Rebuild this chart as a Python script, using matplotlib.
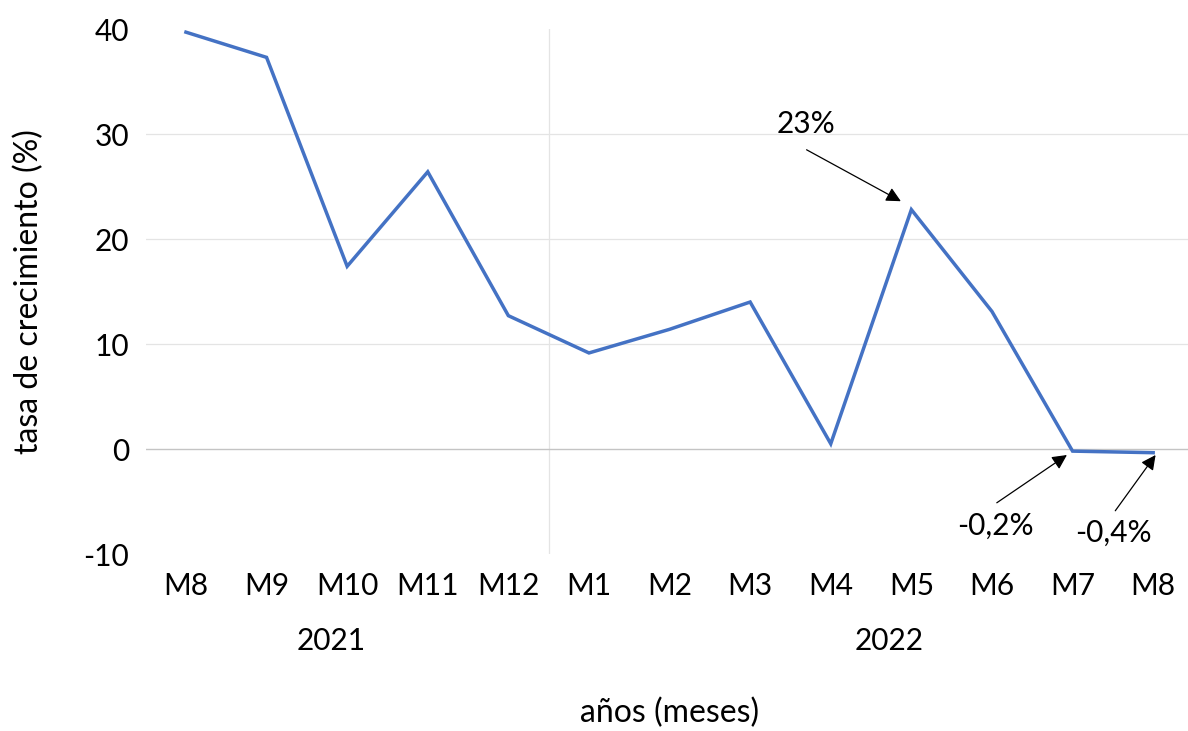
import matplotlib
matplotlib.use("Agg")
import matplotlib.pyplot as plt

# Data
months = ["M8", "M9", "M10", "M11", "M12", "M1", "M2", "M3", "M4", "M5", "M6", "M7", "M8"]
growth = [39.7, 37.3, 17.4, 26.4, 12.7, 9.15, 11.4, 14.0, 0.5, 22.8, 13.1, -0.2, -0.35]
years = ["2021", "2022"]
y_ticks = [-10, 0, 10, 20, 30, 40]
annot_labels = ["23%", "-0,2%", "-0,4%"]

plt.rcParams['font.family'] = ['Lato', 'DejaVu Sans']

FS = 21.5
fig = plt.figure(figsize=(11.88, 7.31), dpi=100)
ax = fig.add_axes([0.1226, 0.2421, 0.882, 0.7182])

x = list(range(len(months)))
ax.set_xlim(-0.5, len(months) - 0.5)
ax.set_ylim(-10, 40)

# gridlines
for v in [10, 20, 30]:
    ax.axhline(v, color='#E4E4E4', lw=0.9, zorder=0)
ax.axhline(0, color='#C4C4C4', lw=1.0, zorder=1)
# year separator
ax.axvline(4.5, color='#E4E4E4', lw=0.9, zorder=0)

ax.plot(x, growth, color='#4472C4', lw=2.5, solid_joinstyle='miter', zorder=3)

for s in ax.spines.values():
    s.set_visible(False)
ax.set_yticks(y_ticks)
ax.set_yticklabels([str(t) for t in y_ticks])
ax.set_xticks(x)
ax.set_xticklabels(months)
ax.tick_params(axis='both', length=0, labelsize=FS, colors='black')
ax.tick_params(axis='y', pad=12)
ax.tick_params(axis='x', pad=13)

# year labels
trans = ax.get_xaxis_transform()
ax.text(1.8, -0.166, years[0], transform=trans, ha='center', va='center', fontsize=FS)
ax.text(8.72, -0.166, years[1], transform=trans, ha='center', va='center', fontsize=FS)

ax.set_xlabel("años (meses)", fontsize=23, labelpad=70)
ax.set_ylabel("tasa de crecimiento (%)", fontsize=23, labelpad=28)

ap = dict(arrowstyle='-|>', color='black', lw=0.9, mutation_scale=22,
          shrinkA=0, shrinkB=0)
ax.annotate('', xy=(8.87, 23.6), xytext=(7.70, 28.5), arrowprops=ap)
ax.text(7.69, 31.0, annot_labels[0], ha='center', va='center', fontsize=FS)
ax.annotate('', xy=(10.93, -0.57), xytext=(10.06, -5.12), arrowprops=ap)
ax.text(10.04, -7.34, annot_labels[1], ha='center', va='center', fontsize=FS)
ax.annotate('', xy=(12.03, -0.57), xytext=(11.53, -5.88), arrowprops=ap)
ax.text(11.51, -8.0, annot_labels[2], ha='center', va='center', fontsize=FS)

fig.savefig("out.png", dpi=100)
